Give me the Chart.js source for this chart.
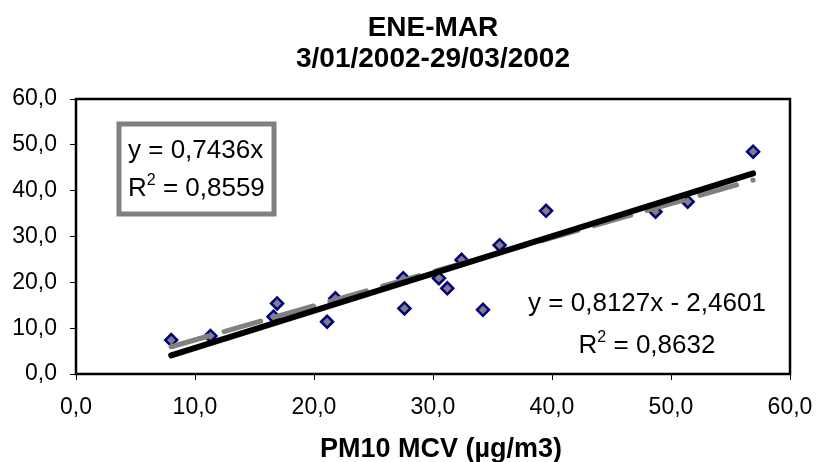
<!DOCTYPE html>
<html>
<head>
<meta charset="utf-8">
<script src="https://cdn.jsdelivr.net/npm/chart.js@4.4.0/dist/chart.umd.min.js"></script>
<style>
  html, body { margin: 0; padding: 0; background: #fff; }
  #wrap { width: 816px; height: 462px; }
</style>
</head>
<body>
<div id="wrap"><canvas id="grafico" width="816" height="462"></canvas></div>
<script>
// PM10 MCV (eje x) frente al otro captador (eje y)
const pm10Mcv = [8.0, 11.3, 16.9, 16.6, 21.1, 21.8, 27.6, 27.5, 30.5, 31.2, 32.4, 34.2, 35.6, 39.5, 48.7, 51.4, 56.9];
const pm10Ref = [7.4, 8.3, 15.4, 12.5, 11.4, 16.5, 14.3, 20.9, 20.9, 18.7, 24.9, 14.0, 28.1, 35.6, 35.4, 37.6, 48.5];
const ticksEje = [0, 10, 20, 30, 40, 50, 60];
const tituloLineas = ['ENE-MAR', '3/01/2002-29/03/2002'];
const tituloEjeX = 'PM10 MCV (µg/m3)';

// lineas de tendencia: y = a*x + b
const ajusteLibre = { a: 0.8127, b: -2.4601, r2: '0,8632' };
const ajusteOrigen = { a: 0.7436, b: 0, r2: '0,8559' };

const fuente = '"Liberation Sans", Arial, sans-serif';
const coma = (v, d) => v.toFixed(d).replace('.', ',');

function ecuacion(aj) {
  let s = 'y = ' + coma(aj.a, 4) + 'x';
  if (aj.b < 0) s += ' - ' + coma(-aj.b, 4);
  else if (aj.b > 0) s += ' + ' + coma(aj.b, 4);
  return s;
}

const xMin = Math.min(...pm10Mcv);
const xMax = Math.max(...pm10Mcv);
const recta = aj => [xMin, xMax].map(x => ({ x: x, y: aj.a * x + aj.b }));

// R² con el 2 en superindice
function rCuadrado(ctx, x, y, valor, size, centrado) {
  const big = size + 'px ' + fuente, small = Math.round(size * 0.62) + 'px ' + fuente;
  ctx.font = big;
  const wR = ctx.measureText('R').width;
  const resto = ' = ' + valor;
  const wResto = ctx.measureText(resto).width;
  ctx.font = small;
  const w2 = ctx.measureText('2').width;
  let x0 = centrado ? x - (wR + w2 + wResto) / 2 : x;
  ctx.textAlign = 'left';
  ctx.font = big;
  ctx.fillText('R', x0, y);
  ctx.font = small;
  ctx.fillText('2', x0 + wR, y - size * 0.42);
  ctx.font = big;
  ctx.fillText(resto, x0 + wR + w2, y);
}

const textos = {
  id: 'textos',
  afterDraw(chart) {
    const ctx = chart.ctx, a = chart.chartArea;
    const cx = (a.left + a.right) / 2;
    ctx.save();
    ctx.fillStyle = '#000';
    ctx.textBaseline = 'alphabetic';

    // marco del area de trazado
    ctx.strokeStyle = '#000';
    ctx.lineWidth = 2.5;
    ctx.strokeRect(a.left, a.top, a.right - a.left, a.bottom - a.top);

    // titulo
    ctx.textAlign = 'center';
    ctx.font = 'bold 28px ' + fuente;
    ctx.fillText(tituloLineas[0], cx, 36);
    ctx.fillText(tituloLineas[1], cx, 67);

    // titulo del eje x
    ctx.font = 'bold 27px ' + fuente;
    ctx.fillText(tituloEjeX, cx + 8, 457);

    // recuadro de la recta por el origen
    ctx.strokeStyle = '#808080';
    ctx.lineWidth = 5;
    ctx.strokeRect(a.left + 43, a.top + 25, 155, 90);
    ctx.textAlign = 'left';
    ctx.font = '26px ' + fuente;
    ctx.fillText(ecuacion(ajusteOrigen), a.left + 52, a.top + 59);
    rCuadrado(ctx, a.left + 52, a.top + 97, ajusteOrigen.r2, 26, false);

    // etiqueta de la recta libre
    ctx.textAlign = 'center';
    ctx.font = '26px ' + fuente;
    ctx.fillText(ecuacion(ajusteLibre), a.left + 571, a.top + 212);
    rCuadrado(ctx, a.left + 571, a.top + 254, ajusteLibre.r2, 26, true);
    ctx.restore();
  }
};

const ctx = document.getElementById('grafico').getContext('2d');
const grafico = new Chart(ctx, {
  type: 'scatter',
  data: {
    datasets: [
      {
        label: 'PM10',
        data: pm10Mcv.map((x, i) => ({ x: x, y: pm10Ref[i] })),
        pointStyle: 'rectRot',
        pointRadius: 6,
        pointHoverRadius: 6,
        pointBackgroundColor: '#808080',
        pointBorderColor: '#000080',
        pointBorderWidth: 2.5,
        order: 3
      },
      {
        label: 'origen',
        data: recta(ajusteOrigen),
        showLine: true,
        pointRadius: 0,
        borderColor: '#808080',
        borderWidth: 5,
        borderDash: [38, 17],
        borderCapStyle: 'round',
        order: 2
      },
      {
        label: 'libre',
        data: recta(ajusteLibre),
        showLine: true,
        pointRadius: 0,
        borderColor: '#000',
        borderWidth: 6,
        borderCapStyle: 'round',
        order: 1
      }
    ]
  },
  options: {
    responsive: false,
    animation: false,
    events: [],
    layout: { padding: { top: 99, right: 26, left: 0, bottom: 0 } },
    plugins: {
      legend: { display: false },
      tooltip: { enabled: false }
    },
    scales: {
      x: {
        type: 'linear',
        min: 0, max: 60,
        afterBuildTicks: s => { s.ticks = ticksEje.map(v => ({ value: v })); },
        afterFit: s => { s.height = 88; s.paddingLeft = 0; s.paddingRight = 0; },
        border: { display: false },
        grid: { drawOnChartArea: false, drawTicks: true, tickLength: 6, color: '#000', lineWidth: 1 },
        ticks: {
          color: '#000',
          padding: 14,
          maxRotation: 0,
          font: { family: fuente, size: 23 },
          callback: v => coma(v, 1)
        }
      },
      y: {
        type: 'linear',
        min: 0, max: 60,
        afterBuildTicks: s => { s.ticks = ticksEje.map(v => ({ value: v })); },
        afterFit: s => { s.width = 76; s.paddingTop = 0; s.paddingBottom = 0; },
        border: { display: false },
        grid: { drawOnChartArea: false, drawTicks: true, tickLength: 6, color: '#000', lineWidth: 1 },
        ticks: {
          color: '#000',
          padding: 13,
          font: { family: fuente, size: 23 },
          callback: v => coma(v, 1)
        }
      }
    }
  },
  plugins: [textos]
});
</script>
</body>
</html>
